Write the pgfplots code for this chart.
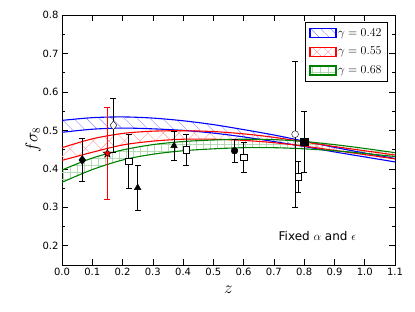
\documentclass[border=0pt]{standalone}
\usepackage{fontspec}
\setmainfont{DejaVu Sans}
\usepackage{pgfplots}
\pgfplotsset{compat=1.18}
\usepgfplotslibrary{fillbetween}
\usetikzlibrary{patterns.meta,calc}
\definecolor{mgreen}{rgb}{0,0.5,0}
\pgfdeclareplotmark{fstar}{%
  \pgfpathmoveto{\pgfpointpolar{90}{\pgfplotmarksize}}%
  \pgfpathlineto{\pgfpointpolar{126}{0.42\pgfplotmarksize}}%
  \pgfpathlineto{\pgfpointpolar{162}{\pgfplotmarksize}}%
  \pgfpathlineto{\pgfpointpolar{198}{0.42\pgfplotmarksize}}%
  \pgfpathlineto{\pgfpointpolar{234}{\pgfplotmarksize}}%
  \pgfpathlineto{\pgfpointpolar{270}{0.42\pgfplotmarksize}}%
  \pgfpathlineto{\pgfpointpolar{306}{\pgfplotmarksize}}%
  \pgfpathlineto{\pgfpointpolar{342}{0.42\pgfplotmarksize}}%
  \pgfpathlineto{\pgfpointpolar{18}{\pgfplotmarksize}}%
  \pgfpathlineto{\pgfpointpolar{54}{0.42\pgfplotmarksize}}%
  \pgfpathclose
  \pgfusepathqfillstroke}
\pgfplotsset{
  pt/.style={only marks, forget plot,
    error bars/y dir=both, error bars/y explicit,
    error bars/error bar style={black, line width=0.8pt},
    error bars/error mark options={black, rotate=90, mark size=3pt, line width=0.8pt}},
}
\begin{document}
\begin{tikzpicture}
\begin{axis}[
  scale only axis, width=333pt, height=250pt,
  xmin=0, xmax=1.1, ymin=0.15, ymax=0.8,
  xtick={0,0.1,0.2,0.3,0.4,0.5,0.6,0.7,0.8,0.9,1.0,1.1},
  xticklabels={0.0,0.1,0.2,0.3,0.4,0.5,0.6,0.7,0.8,0.9,1.0,1.1},
  ytick={0.2,0.3,0.4,0.5,0.6,0.7,0.8},
  yticklabels={0.2,0.3,0.4,0.5,0.6,0.7,0.8},
  minor ytick={0.15,0.25,0.35,0.45,0.55,0.65,0.75},
  tick align=inside, major tick length=6pt, minor tick length=3pt,
  tick style={black, line width=0.6pt},
  axis line style={line width=0.8pt},
  ticklabel style={font=\fontsize{10}{12}\selectfont},
  xlabel={$z$}, ylabel={$f\sigma_8$},
  label style={font=\fontsize{16}{18}\selectfont},
  x label style={at={(axis description cs:0.5,-0.1)}, anchor=center},
  y label style={at={(axis description cs:-0.087,0.5)}, anchor=center},
  legend style={at={(0.979,0.972)}, anchor=north east, draw=black, line width=0.8pt,
    fill=white, font=\fontsize{11.5}{13}\selectfont, row sep=5.5pt, inner sep=4pt},
  legend cell align=left,
  legend image code/.code={\draw[#1] (0pt,-4.5pt) rectangle (26pt,4.5pt);},
]
\addlegendimage{draw=blue, line width=1.1pt, pattern={Lines[angle=-45,distance=7pt,line width=0.4pt]}, pattern color=blue!45}
\addlegendentry{$\gamma=0.42$}
\addlegendimage{draw=red, line width=1.1pt, pattern={Hatch[angle=45,distance=8pt,line width=0.4pt]}, pattern color=red!40}
\addlegendentry{$\gamma=0.55$}
\addlegendimage{draw=mgreen, line width=1.1pt, pattern={Hatch[angle=0,distance=8pt,line width=0.4pt]}, pattern color=mgreen!30}
\addlegendentry{$\gamma=0.68$}

% bands
\addplot[blue, line width=1.1pt, smooth, name path=bu, forget plot] coordinates {
(0,0.526)(0.1,0.533)(0.2,0.535)(0.3,0.532)(0.4,0.525)(0.5,0.515)(0.6,0.502)(0.7,0.488)(0.8,0.472)(0.9,0.456)(1.0,0.441)(1.1,0.427)};
\addplot[blue, line width=1.1pt, smooth, name path=bl, forget plot] coordinates {
(0,0.495)(0.1,0.503)(0.2,0.506)(0.3,0.504)(0.4,0.500)(0.5,0.493)(0.6,0.483)(0.7,0.471)(0.8,0.458)(0.9,0.444)(1.0,0.431)(1.1,0.418)};
\addplot[draw=none, pattern={Lines[angle=-45,distance=9pt,line width=0.4pt]}, pattern color=blue!45, forget plot] fill between[of=bu and bl];

\addplot[red, line width=1.1pt, smooth, name path=ru, forget plot] coordinates {
(0,0.455)(0.1,0.478)(0.2,0.492)(0.3,0.498)(0.4,0.499)(0.5,0.497)(0.6,0.491)(0.7,0.482)(0.8,0.470)(0.9,0.458)(1.0,0.447)(1.1,0.436)};
\addplot[red, line width=1.1pt, smooth, name path=rl, forget plot] coordinates {
(0,0.422)(0.1,0.443)(0.2,0.462)(0.3,0.472)(0.4,0.477)(0.5,0.477)(0.6,0.474)(0.7,0.468)(0.8,0.459)(0.9,0.448)(1.0,0.437)(1.1,0.426)};
\addplot[draw=none, pattern={Hatch[angle=45,distance=11pt,line width=0.4pt]}, pattern color=red!40, forget plot] fill between[of=ru and rl];

\addplot[mgreen, line width=1.1pt, smooth, name path=gu, forget plot] coordinates {
(0,0.397)(0.1,0.428)(0.2,0.449)(0.3,0.463)(0.4,0.471)(0.5,0.475)(0.6,0.477)(0.7,0.476)(0.8,0.471)(0.9,0.463)(1.0,0.453)(1.1,0.442)};
\addplot[mgreen, line width=1.1pt, smooth, name path=gl, forget plot] coordinates {
(0,0.365)(0.1,0.398)(0.2,0.423)(0.3,0.438)(0.4,0.447)(0.5,0.452)(0.6,0.455)(0.7,0.455)(0.8,0.452)(0.9,0.447)(1.0,0.440)(1.1,0.432)};
\addplot[draw=none, pattern={Hatch[angle=0,distance=7pt,line width=0.4pt]}, pattern color=mgreen!30, forget plot] fill between[of=gu and gl];

% data points
\addplot[pt, mark=diamond*, mark size=4.5pt, mark options={fill=black, draw=black}] coordinates {(0.067,0.423) +- (0,0.055)};
\addplot[pt, mark=fstar, mark size=4.5pt, mark options={fill=red, draw=black, line width=0.5pt},
  error bars/error bar style={red, line width=0.8pt}, error bars/error mark options={red, rotate=90, mark size=3pt, line width=0.8pt}] coordinates {(0.15,0.44) +- (0,0.12)};
\addplot[pt, mark=diamond*, mark size=4.5pt, mark options={fill=white, draw=black}] coordinates {(0.17,0.513) +- (0,0.071)};
\addplot[pt, mark=square*, mark size=3.3pt, mark options={fill=white, draw=black}] coordinates {(0.22,0.42) +- (0,0.07) (0.41,0.45) +- (0,0.04) (0.60,0.43) +- (0,0.04) (0.78,0.38) +- (0,0.04)};
\addplot[pt, mark=triangle*, mark size=3.8pt, mark options={fill=black, draw=black}] coordinates {(0.25,0.351) +- (0,0.058) (0.37,0.46) +- (0,0.038)};
\addplot[pt, mark=*, mark size=3.4pt, mark options={fill=black, draw=black}] coordinates {(0.57,0.447) +- (0,0.029)};
\addplot[pt, mark=*, mark size=3.4pt, mark options={fill=white, draw=black}] coordinates {(0.77,0.49) +- (0,0.19)};
\addplot[pt, mark=square*, mark size=3.6pt, mark options={fill=black, draw=black}] coordinates {(0.80,0.47) +- (0,0.08)};

\node[anchor=west, inner sep=0pt, font=\fontsize{12}{14}\selectfont] at (axis cs:0.715,0.226) {Fixed $\alpha$ and $\epsilon$};
\end{axis}
\pgfresetboundingbox
\path[use as bounding box] ($(current axis.south west)+(-62pt,-47pt)$) rectangle ($(current axis.north east)+(20pt,15pt)$);
\end{tikzpicture}
\end{document}
